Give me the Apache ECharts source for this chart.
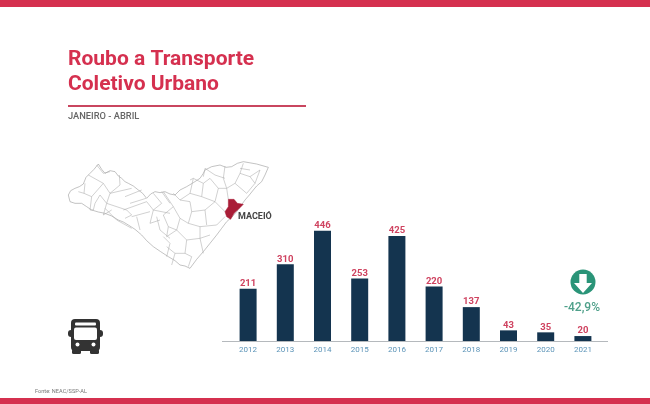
<!DOCTYPE html>
<html><head><meta charset="utf-8">
<style>html,body{margin:0;padding:0;background:#fff}#c{width:650px;height:404px}</style>
<script src="https://cdn.jsdelivr.net/npm/echarts@6/dist/echarts.min.js"></script>
</head><body><div id="c"></div>
<script>
const years=['2012','2013','2014','2015','2016','2017','2018','2019','2020','2021'];
const values=[211,310,446,253,425,220,137,43,35,20];
const titleLines=['Roubo a Transporte','Coletivo Urbano'];
const subtitle='JANEIRO - ABRIL';
const source='Fonte: NEAC/SSP-AL';
const changeLabel='-42,9%';
const cityLabel='MACEIÓ';
// Map tracing, in 3x crop pixels of the (40,140) region
const outline=[[85,165],[92,152],[105,145],[118,140],[130,132],[138,112],[150,100],[162,88],[175,72],[185,88],[195,100],[210,92],[225,95],[235,108],[245,115],[255,125],[265,130],[280,138],[295,150],[308,160],[320,175],[332,162],[345,155],[360,158],[375,155],[390,162],[405,165],[420,150],[440,140],[460,128],[480,115],[490,100],[495,90],[515,80],[540,75],[558,82],[575,80],[592,70],[610,65],[650,72],[685,82],[675,105],[665,125],[650,138],[640,150],[628,165],[615,180],[602,198],[590,215],[575,232],[560,245],[545,265],[530,285],[510,310],[490,335],[470,358],[450,385],[435,378],[420,375],[405,362],[385,350],[362,335],[340,320],[320,302],[305,285],[285,268],[265,255],[250,246],[235,240],[215,228],[195,220],[175,216],[155,210],[140,200],[125,190],[105,190],[90,185]];
const westBorders=[[[75,70],[72,100],[95,110]],[[110,15],[130,40],[150,35]],[[85,45],[130,70],[150,100]],[[178,45],[180,75],[150,100]],[[150,100],[215,85]],[[150,100],[140,130],[200,150]],[[120,105],[105,130],[100,150]],[[140,130],[130,165],[155,150]],[[195,110],[245,90]],[[210,130],[258,115]],[[190,150],[260,125]],[[260,125],[280,150],[270,190]],[[135,145],[170,180],[215,205]],[[200,150],[215,165],[195,175]],[[215,170],[270,155]],[[230,170],[240,210]],[[280,100],[305,130],[280,150]],[[305,95],[330,130]],[[280,150],[330,160]],[[290,170],[300,210],[330,235]],[[270,190],[300,180]],[[55,95],[72,100]],[[95,110],[90,150],[100,150]],[[120,105],[140,130]],[[130,70],[95,110]]];
const eastBorders=[[[135,25],[165,45],[195,55]],[[100,55],[130,70],[150,55]],[[135,25],[130,50]],[[195,18],[190,55],[200,85],[205,118]],[[250,10],[240,40],[270,50],[300,30]],[[240,40],[225,70],[260,100]],[[200,85],[225,70]],[[130,70],[125,110],[165,125],[195,155]],[[90,100],[125,110]],[[165,125],[175,85],[200,85]],[[60,120],[90,125],[95,155],[135,150],[165,125]],[[95,155],[85,190],[120,200],[170,195],[195,170]],[[135,150],[140,195]],[[40,140],[60,175],[85,190]],[[60,175],[50,210],[20,230]],[[50,210],[80,240],[120,235],[150,225]],[[120,200],[120,235]],[[80,240],[75,280],[95,290],[85,320]],[[120,235],[130,280]],[[20,260],[45,280],[75,280]],[[10,230],[30,250],[20,290]],[[45,280],[35,315]],[[240,25],[270,30]],[[90,60],[100,55],[90,100],[60,120]],[[40,100],[60,120]],[[10,95],[40,140],[10,165]],[[10,165],[25,200],[20,230]],[[25,200],[50,210]],[[150,55],[175,85]],[[300,30],[285,70],[260,100]],[[270,50],[285,70]]];
const maceio=[[565,178],[582,178],[592,190],[610,193],[595,208],[582,220],[572,238],[560,230],[555,215],[565,200]];
const mp=p=>[40+p[0]/3,140+p[1]/3];
const west=p=>[60+p[0]/3,160+p[1]/3];
const east=p=>[160+p[0]/3,160+p[1]/3];
const RED='#d5304f',NAVY='#14344f',LABEL='#cf4360';
const chart=echarts.init(document.getElementById('c'));
const line=(pts)=>({type:'polyline',shape:{points:pts},style:{fill:null,stroke:'#aaaaaa',lineWidth:0.55}});
const graphics=[
 {type:'rect',silent:true,shape:{x:0,y:0,width:650,height:7},style:{fill:RED}},
 {type:'rect',silent:true,shape:{x:0,y:398,width:650,height:6},style:{fill:RED}},
 {type:'rect',silent:true,shape:{x:68,y:105,width:238,height:2},style:{fill:'#c9465f'}},
 {type:'text',style:{x:68,y:59.5,text:titleLines[0],fill:RED,font:'700 21px Roboto',textVerticalAlign:'middle'}},
 {type:'text',style:{x:68,y:85,text:titleLines[1],fill:RED,font:'700 21px Roboto',textVerticalAlign:'middle'}},
 {type:'text',style:{x:68,y:117,text:subtitle,fill:'#666',font:'500 9.3px Roboto',textVerticalAlign:'middle'}},
 {type:'text',style:{x:35,y:392,text:source,fill:'#777',font:'400 5.6px Roboto',textVerticalAlign:'middle'}},
 {type:'polygon',shape:{points:outline.map(mp)},style:{fill:'#fff',stroke:'#9a9a9a',lineWidth:0.6}},
 ...westBorders.map(b=>line(b.map(west))),
 ...eastBorders.map(b=>line(b.map(east))),
 {type:'polygon',shape:{points:maceio.map(mp)},style:{fill:'#a91d37',stroke:'#a91d37',lineWidth:0.5}},
 {type:'text',style:{x:238,y:216.5,text:cityLabel,fill:'#444',font:'700 9px Roboto',textVerticalAlign:'middle'}},
 // bus
 {type:'rect',shape:{x:71,y:319,width:29,height:32,r:4},style:{fill:'#333'}},
 {type:'rect',shape:{x:68,y:330,width:35,height:7,r:3},style:{fill:'#333'}},
 {type:'rect',shape:{x:72,y:349,width:9,height:5,r:1.5},style:{fill:'#333'}},
 {type:'rect',shape:{x:90,y:349,width:9,height:5,r:1.5},style:{fill:'#333'}},
 {type:'rect',shape:{x:75,y:322.5,width:21,height:3,r:1},style:{fill:'#fff'}},
 {type:'rect',shape:{x:74,y:327.5,width:23,height:12.5,r:2},style:{fill:'#fff'}},
 {type:'circle',shape:{cx:77.5,cy:344.5,r:2},style:{fill:'#fff'}},
 {type:'circle',shape:{cx:93.5,cy:344.5,r:2},style:{fill:'#fff'}},
 // change badge
 {type:'circle',shape:{cx:583,cy:282,r:12.5},style:{fill:'#2a9478'}},
 {type:'polygon',shape:{points:[[579.3,274],[586.7,274],[586.7,283],[592,283],[583,293],[574,283],[579.3,283]]},style:{fill:'#fff'}},
 {type:'text',style:{x:582,y:308,text:changeLabel,fill:'#4fa08a',font:'500 12px Roboto',textAlign:'center',textVerticalAlign:'middle'}},
 // axis extension
 {type:'rect',shape:{x:222,y:341,width:386,height:1},style:{fill:'#b5b9bd'}}
];
chart.setOption({
 animation:false,
 grid:{left:229.5,width:372,top:230.7,height:110.3,containLabel:false},
 xAxis:{type:'category',data:years,axisTick:{show:false},axisLine:{show:false},
  axisLabel:{color:'#5c94b8',fontFamily:'Roboto',fontSize:8,margin:5}},
 yAxis:{type:'value',min:0,max:446,show:false,splitLine:{show:false}},
 series:[{type:'bar',data:values,barWidth:17,itemStyle:{color:NAVY},
  label:{show:true,position:'top',distance:0,color:LABEL,fontFamily:'Roboto',fontWeight:700,fontSize:9.5}}],
 graphic:graphics
});
</script></body></html>
